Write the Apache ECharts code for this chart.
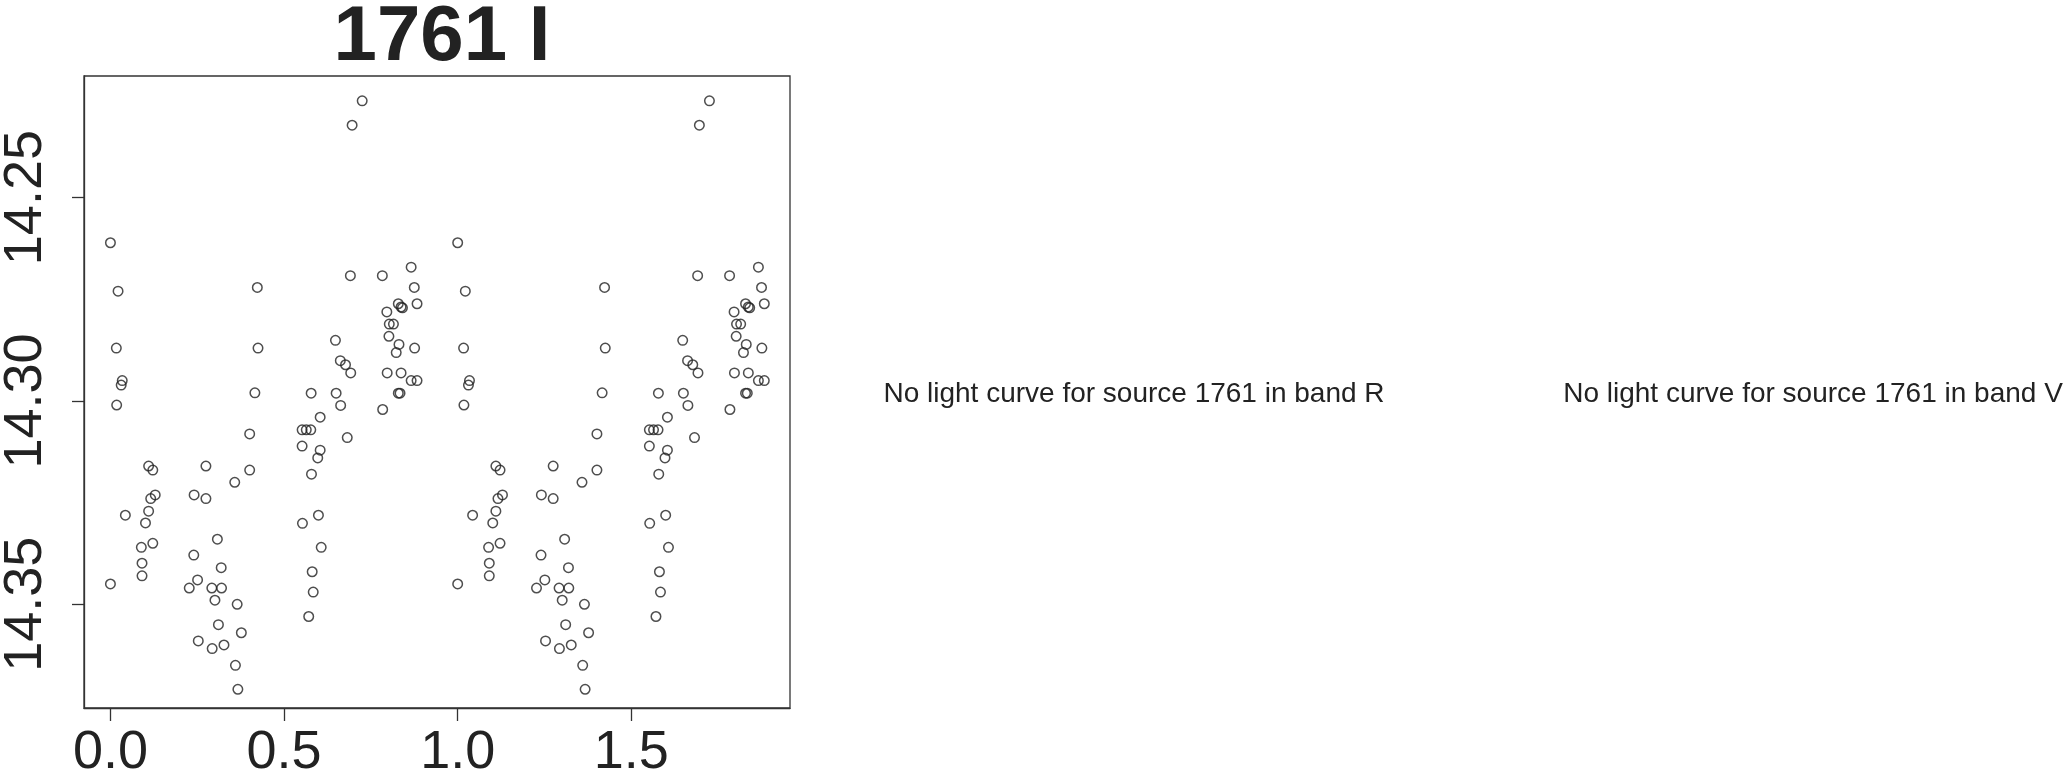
<!DOCTYPE html>
<html>
<head>
<meta charset="utf-8">
<script src="https://cdn.jsdelivr.net/npm/echarts@6/dist/echarts.min.js"></script>
<style>
html,body{margin:0;padding:0;background:#fff;}
#chart{width:2064px;height:771px;}
</style>
</head>
<body>
<div id="chart"></div>
<script>
// Phase-folded I-band light curve of source 1761 (phase, magnitude)
const phase = [
  0.000, 0.000, 0.022, 0.017, 0.034, 0.031, 0.018, 0.043, 0.110, 0.122,
  0.129, 0.116, 0.110, 0.101, 0.089, 0.122, 0.091, 0.091, 0.275, 0.241,
  0.275, 0.308, 0.240, 0.319, 0.251, 0.227, 0.292, 0.320, 0.301, 0.365,
  0.311, 0.377, 0.253, 0.327, 0.293, 0.360, 0.367, 0.358, 0.401, 0.401,
  0.416, 0.425, 0.423, 0.553, 0.599, 0.607, 0.581, 0.584, 0.571, 0.579,
  0.597, 0.604, 0.552, 0.552, 0.564, 0.577, 0.604, 0.578, 0.650, 0.663,
  0.682, 0.648, 0.662, 0.677, 0.692, 0.691, 0.696, 0.725, 0.783, 0.784,
  0.797, 0.802, 0.796, 0.803, 0.815, 0.823, 0.831, 0.829, 0.841, 0.837,
  0.837, 0.829, 0.834, 0.866, 0.883, 0.876, 0.883, 0.875, 0.866
];
const mag = [
  14.2611, 14.3450, 14.2730, 14.2870, 14.2950, 14.2961, 14.3010, 14.3281, 14.3160, 14.3170,
  14.3231, 14.3240, 14.3271, 14.3300, 14.3360, 14.3350, 14.3399, 14.3430, 14.3160, 14.3231,
  14.3240, 14.3340, 14.3379, 14.3410, 14.3440, 14.3460, 14.3460, 14.3460, 14.3490, 14.3500,
  14.3550, 14.3570, 14.3590, 14.3600, 14.3609, 14.3650, 14.3709, 14.3200, 14.3170, 14.3081,
  14.2980, 14.2870, 14.2721, 14.3301, 14.3281, 14.3360, 14.3420, 14.3470, 14.3530, 14.3180,
  14.3140, 14.3121, 14.3111, 14.3071, 14.3071, 14.3071, 14.3040, 14.2981, 14.2981, 14.3011,
  14.3090, 14.2851, 14.2901, 14.2911, 14.2931, 14.2692, 14.2322, 14.2262, 14.2692, 14.3021,
  14.2931, 14.2841, 14.2781, 14.2811, 14.2811, 14.2881, 14.2861, 14.2761, 14.2771, 14.2769,
  14.2931, 14.2981, 14.2981, 14.2950, 14.2950, 14.2870, 14.2761, 14.2721, 14.2671
];
const xTicks = [0, 0.5, 1.0, 1.5];
const yTicks = [14.25, 14.30, 14.35];
const titleText = '1761 I';
const missingBands = ['R', 'V'];
const sourceId = '1761';

// The light curve is drawn over two cycles: phase and phase + 1
const points = [];
for (let i = 0; i < phase.length; i++) points.push([phase[i], mag[i]]);
for (let i = 0; i < phase.length; i++) points.push([phase[i] + 1, mag[i]]);

const FONT = '"Liberation Sans", Arial, Helvetica, sans-serif';
const INK = '#222222';

const chart = echarts.init(document.getElementById('chart'), null, {renderer: 'canvas'});
chart.setOption({
  animation: false,
  backgroundColor: '#ffffff',
  title: {
    text: titleText,
    left: 437, top: -6, textAlign: 'center',
    textStyle: {fontFamily: FONT, fontSize: 78, fontWeight: 'bold', color: INK}
  },
  grid: {
    left: 84, top: 76, width: 706, height: 632,
    containLabel: false, outerBoundsMode: 'none',
    show: true, borderColor: '#333333', borderWidth: 1.3, backgroundColor: 'transparent'
  },
  xAxis: {
    type: 'value', min: -0.0761, max: 1.957, position: 'bottom',
    axisLine: {show: true, onZero: false, lineStyle: {color: '#333333', width: 1.3}},
    axisTick: {show: true, length: 13, customValues: xTicks, lineStyle: {color: '#333333', width: 1.3}},
    axisLabel: {
      customValues: xTicks, margin: 18, fontSize: 54, fontFamily: FONT, color: INK,
      formatter: v => Number(v).toFixed(1)
    },
    splitLine: {show: false}
  },
  yAxis: {
    type: 'value', inverse: true, min: 14.2201, max: 14.3755,
    axisLine: {show: true, onZero: false, lineStyle: {color: '#333333', width: 1.3}},
    axisTick: {show: true, length: 12, customValues: yTicks, lineStyle: {color: '#333333', width: 1.3}},
    axisLabel: {
      customValues: yTicks, rotate: 90, margin: 31, fontSize: 54, fontFamily: FONT, color: INK,
      formatter: v => Number(v).toFixed(2)
    },
    splitLine: {show: false}
  },
  series: [{
    type: 'scatter',
    data: points,
    symbol: 'circle',
    symbolSize: 9.5,
    itemStyle: {color: 'rgba(0,0,0,0)', borderColor: INK, borderWidth: 1.5},
    silent: true
  }],
  graphic: [
    {type: 'text', x: 1134, y: 394, style: {
      text: 'No light curve for source ' + sourceId + ' in band ' + missingBands[0],
      align: 'center', verticalAlign: 'middle',
      font: '28px ' + FONT, fill: INK}},
    {type: 'text', x: 1813, y: 394, style: {
      text: 'No light curve for source ' + sourceId + ' in band ' + missingBands[1],
      align: 'center', verticalAlign: 'middle',
      font: '28px ' + FONT, fill: INK}}
  ]
});
</script>
</body>
</html>
